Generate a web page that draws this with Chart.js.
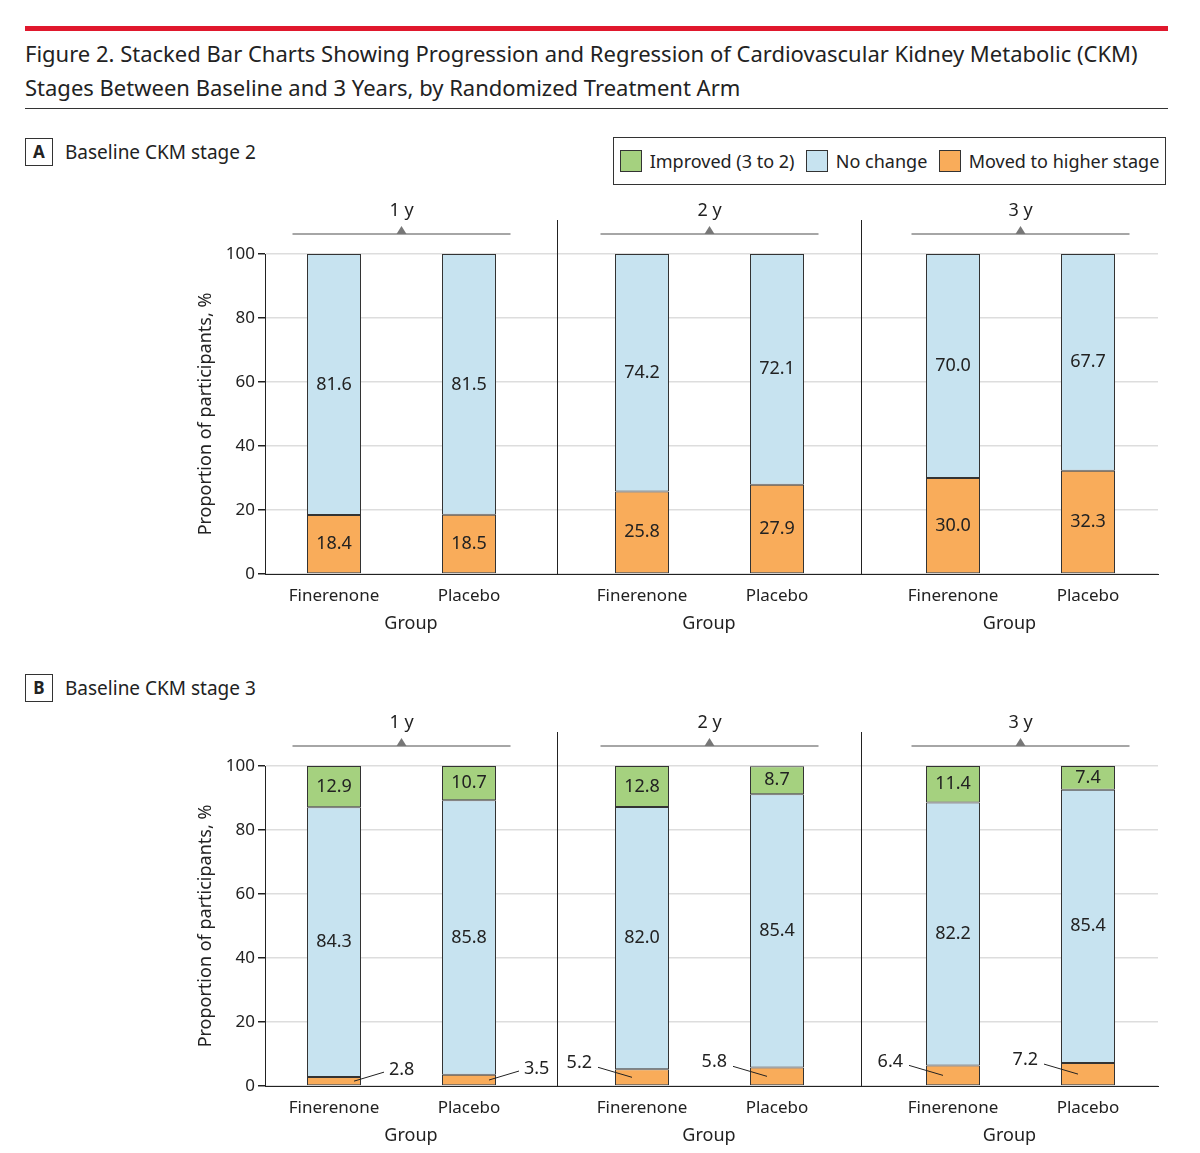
<!DOCTYPE html>
<html>
<head>
<meta charset="utf-8">
<script src="https://cdn.jsdelivr.net/npm/chart.js@4"></script>
<style>
  body { margin: 0; background: #fff; font-family: "Noto Sans", sans-serif; color: #222; }
  #page { position: relative; width: 1200px; height: 1153px; }
  .abs { position: absolute; }
  #redbar { left: 25px; top: 26px; width: 1143px; height: 5px; background: #E0182D; }
  #title { left: 25px; top: 36px; font-size: 22px; line-height: 34px; color: #222; }
  #rule { left: 25px; top: 108px; width: 1143px; height: 1px; background: #333; }
  .plabel { font-size: 19px; display: flex; align-items: center; }
  .plabel b { display: inline-block; width: 26px; height: 26px; border: 1px solid #333; text-align: center; line-height: 26px; margin-right: 12px; font-size: 17px; }
  #legend { left: 613px; top: 137px; width: 551px; height: 46px; border: 1px solid #333; display: flex; align-items: center; justify-content: space-around; font-size: 18px; }
  #legend span.sw { display: inline-block; width: 20px; height: 20px; border: 1px solid #333; vertical-align: -4px; margin-right: 8px; }
  canvas { position: absolute; }
</style>
</head>
<body>
<div id="page">
  <div id="redbar" class="abs"></div>
  <div id="title" class="abs">Figure 2. Stacked Bar Charts Showing Progression and Regression of Cardiovascular Kidney Metabolic (CKM)<br>Stages Between Baseline and 3 Years, by Randomized Treatment Arm</div>
  <div id="rule" class="abs"></div>
  <div class="abs plabel" style="left:25px;top:138px"><b>A</b>Baseline CKM stage 2</div>
  <div class="abs plabel" style="left:25px;top:674px"><b>B</b>Baseline CKM stage 3</div>
  <div id="legend" class="abs">
    <div><span class="sw" style="background:#A5D17F"></span>Improved (3 to 2)</div>
    <div><span class="sw" style="background:#C7E3F0"></span>No change</div>
    <div><span class="sw" style="background:#F9AC5A"></span>Moved to higher stage</div>
  </div>
</div>
<script>
const groups = ['Finerenone', 'Placebo'];
const yearLabels = ['1 y', '2 y', '3 y'];
const yTicks = [0, 20, 40, 60, 80, 100];

// panel A: baseline stage 2
const aHigher   = [[18.4, 18.5], [25.8, 27.9], [30.0, 32.3]];
const aNoChange = [[81.6, 81.5], [74.2, 72.1], [70.0, 67.7]];
// panel B: baseline stage 3
const bHigher   = [[2.8, 3.5], [5.2, 5.8], [6.4, 7.2]];
const bNoChange = [[84.3, 85.8], [82.0, 85.4], [82.2, 85.4]];
const bImproved = [[12.9, 10.7], [12.8, 8.7], [11.4, 7.4]];

const COL_GREEN = '#A5D17F', COL_BLUE = '#C7E3F0', COL_ORANGE = '#F9AC5A';
const FONT = '"Noto Sans", sans-serif';

// layout of the three columns (px)
const areas = [[265, 557], [557, 861], [861, 1158]];
const centers = [[334, 469], [642, 777], [953, 1088]];

const labelPlugin = {
  id: 'labels',
  afterDatasetsDraw(chart, args, opts) {
    const ctx = chart.ctx;
    ctx.save();
    ctx.font = '18px ' + FONT;
    ctx.fillStyle = '#222';
    ctx.strokeStyle = '#222';
    ctx.lineWidth = 1;
    chart.data.datasets.forEach((ds, di) => {
      chart.getDatasetMeta(di).data.forEach((bar, i) => {
        const v = ds.data[i].y;
        const txt = v.toFixed(1);
        const midY = (bar.y + bar.base) / 2;
        if (!(di === 0 && v < 8)) {
          ctx.textAlign = 'center';
          ctx.textBaseline = 'middle';
          ctx.fillText(txt, bar.x, midY);
        } else if (opts.side === 'right') {
          ctx.beginPath();
          ctx.moveTo(bar.x + 20, midY);
          ctx.lineTo(bar.x + 50, midY - 9);
          ctx.stroke();
          ctx.textAlign = 'left';
          ctx.textBaseline = 'middle';
          ctx.fillText(txt, bar.x + 55, midY - 11);
        } else {
          ctx.beginPath();
          ctx.moveTo(bar.x - 10, midY);
          ctx.lineTo(bar.x - 44, midY - 10);
          ctx.stroke();
          ctx.textAlign = 'right';
          ctx.textBaseline = 'middle';
          ctx.fillText(txt, bar.x - 50, midY - 14);
        }
      });
    });
    ctx.restore();
  }
};

const headerPlugin = {
  id: 'header',
  afterDraw(chart, args, opts) {
    const ctx = chart.ctx, a = chart.chartArea;
    const xs = chart.scales.x;
    const c = (xs.getPixelForValue(0) + xs.getPixelForValue(1)) / 2;
    ctx.save();
    ctx.strokeStyle = '#888';
    ctx.fillStyle = '#777';
    ctx.lineWidth = 1.5;
    ctx.beginPath();
    ctx.moveTo(c - 109, a.top - 20);
    ctx.lineTo(c + 109, a.top - 20);
    ctx.stroke();
    ctx.beginPath();
    ctx.moveTo(c - 5, a.top - 20);
    ctx.lineTo(c + 5, a.top - 20);
    ctx.lineTo(c, a.top - 28);
    ctx.closePath();
    ctx.fill();
    ctx.fillStyle = '#222';
    ctx.font = '18px ' + FONT;
    ctx.textAlign = 'center';
    ctx.textBaseline = 'middle';
    ctx.fillText(opts.text, c, a.top - 43);
    if (opts.divider) {
      ctx.strokeStyle = '#222';
      ctx.lineWidth = 1;
      ctx.beginPath();
      ctx.moveTo(a.left + 0.5, a.top - 34);
      ctx.lineTo(a.left + 0.5, a.bottom);
      ctx.stroke();
    }
    ctx.restore();
  }
};

function makeChart(top, col, series) {
  const [l, r] = areas[col];
  const [c0, c1] = centers[col];
  const step = c1 - c0;
  const first = col === 0;
  const canvasLeft = first ? 195 : l;
  const canvas = document.createElement('canvas');
  const w = r - canvasLeft + (col === 2 ? 4 : 0);
  canvas.style.left = canvasLeft + 'px';
  canvas.style.top = top + 'px';
  canvas.style.width = w + 'px';
  canvas.style.height = '440px';
  document.getElementById('page').appendChild(canvas);

  new Chart(canvas, {
    type: 'bar',
    data: {
      datasets: series.map(s => ({
        data: s.values[col].map((v, i) => ({ x: i, y: v })),
        backgroundColor: s.color,
        borderColor: '#333',
        borderWidth: 1,
        borderSkipped: false,
        barPercentage: 0.4,
        categoryPercentage: 1
      }))
    },
    options: {
      responsive: false,
      animation: false,
      devicePixelRatio: 1,
      layout: { padding: { top: 59, right: col === 2 ? 4 : 0 } },
      plugins: {
        legend: { display: false },
        tooltip: { enabled: false },
        labels: { side: col === 0 ? 'right' : 'left' },
        header: { text: yearLabels[col], divider: !first }
      },
      scales: {
        x: {
          type: 'linear',
          stacked: true,
          offset: false,
          min: -(c0 - l) / step,
          max: 1 + (r - c1) / step,
          afterBuildTicks: s => { s.ticks = [{ value: 0 }, { value: 1 }]; },
          afterFit: s => { s.height = 61; },
          grid: { display: false, offset: false },
          border: { color: '#222', width: 1 },
          ticks: {
            callback: v => groups[v],
            font: { family: FONT, size: 17 }, color: '#222', padding: 4
          },
          title: { display: true, text: 'Group', font: { family: FONT, size: 18 }, color: '#222', padding: 0 }
        },
        y: {
          stacked: true,
          min: 0, max: 100,
          afterBuildTicks: s => { s.ticks = yTicks.map(v => ({ value: v })); },
          afterFit: s => { s.width = first ? 70 : 0; },
          grid: { color: '#ddd', lineWidth: 1.5, drawTicks: first, tickColor: '#222', tickLength: 7 },
          border: { display: first, color: '#222', width: 1 },
          ticks: { display: first, font: { family: FONT, size: 17 }, color: '#222', padding: 3 },
          title: { display: first, text: 'Proportion of participants, %', font: { family: FONT, size: 18 }, color: '#222', padding: 0 }
        }
      }
    },
    plugins: [labelPlugin, headerPlugin]
  });
}

const seriesA = [
  { values: aHigher, color: COL_ORANGE },
  { values: aNoChange, color: COL_BLUE }
];
const seriesB = [
  { values: bHigher, color: COL_ORANGE },
  { values: bNoChange, color: COL_BLUE },
  { values: bImproved, color: COL_GREEN }
];
[0, 1, 2].forEach(c => makeChart(195, c, seriesA));
[0, 1, 2].forEach(c => makeChart(707, c, seriesB));
</script>
</body>
</html>
